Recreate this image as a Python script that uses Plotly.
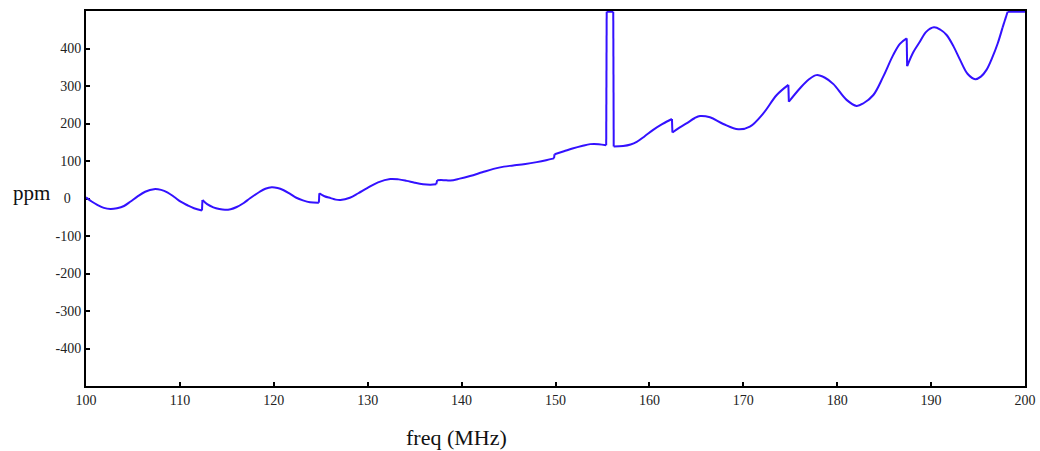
import plotly.graph_objects as go

freq_mhz = [
    100.0, 100.6, 101.2, 101.9, 102.6, 103.3, 104.05, 104.75, 105.46, 106.3, 107.24,
    108.0, 108.66, 109.4, 110.08, 110.8, 111.5, 112.35, 112.4, 112.9, 113.56, 114.2, 114.8,
    115.4, 116.05, 116.8, 117.47, 118.5, 119.1, 119.78, 120.4, 121.0, 121.7, 122.4, 123.1,
    123.85, 124.8,
    124.85, 125.4, 126.06, 126.6, 127.1, 128.1, 129.0, 129.9, 131.1, 132.4, 133.3, 134.15,
    135.0, 135.9, 136.7, 137.3, 137.4, 138.1, 138.8, 139.8, 140.9, 142.2, 143.4, 144.5,
    145.5, 146.8, 148.0, 149.0, 149.84, 149.9, 150.9, 151.9, 152.8, 153.7, 154.6, 155.4,
    155.45, 156.15, 156.2, 157.2, 158.0, 158.65, 159.5, 160.4, 161.4, 162.4, 162.45, 163.2,
    164.0, 164.8, 165.39, 166.45, 167.87, 169.47, 170.7, 172.13, 173.56, 174.8,
    174.85, 176.04, 177.0, 177.8, 178.7, 179.6, 181.0, 182.06, 182.8, 183.85,
    184.9, 185.97, 186.7, 187.4, 187.45, 188.1, 188.8, 189.5, 190.3, 191.0, 191.65, 192.4,
    193.1, 193.9, 194.7, 195.3, 195.9, 196.5, 197.1, 197.6, 198.15, 200.0,
]
ppm_values = [
    3, -8, -17, -25, -28, -26, -20, -8, 5, 18, 25,
    23, 16.5, 4, -8.5, -18, -26, -32, -4, -15, -23.5, -28, -30,
    -28.5, -22.7, -12, 0.5, 18, 26, 30, 28, 22.7, 13, 2, -5,
    -10, -11,
    14, 6, 1, -3, -4, 2, 14, 27, 43, 52, 51, 47,
    42, 38, 37, 38, 49, 49, 48, 53, 60, 70, 79, 85,
    88, 92, 97, 102, 107, 118, 126, 134, 140, 145, 145, 142,
    498, 498, 139, 140, 144, 151, 166, 183, 199, 212, 176, 189,
    201, 214, 220, 216.5, 198.7, 184.5, 191.5, 227, 276, 303,
    258, 294, 318, 329, 322, 305, 263, 247, 254, 276,
    325, 383, 413, 427, 353, 390, 418, 445, 456.5, 450, 436, 405,
    369, 332, 318, 325, 343, 375, 414, 455, 498, 498,
]

x_ticks = [100, 110, 120, 130, 140, 150, 160, 170, 180, 190, 200]
y_ticks = [-400, -300, -200, -100, 0, 100, 200, 300, 400]
y_tick_text = ["-400", "-300", "-200", "-100", "0\u2007\u2008", "100", "200", "300", "400"]

FONT = "Liberation Serif"
LINE = dict(color="#3311ff", width=2)
CEILING = 495

# split the series into smooth pieces at the steps (and at the clipped ceiling)
breaks = []
for i in range(1, len(freq_mhz)):
    if (freq_mhz[i] - freq_mhz[i - 1] < 0.1
            or ppm_values[i] >= CEILING or ppm_values[i - 1] >= CEILING):
        breaks.append(i)

fig = go.Figure()
starts = [0] + breaks
ends = breaks + [len(freq_mhz)]
for s, e in zip(starts, ends):
    fig.add_trace(go.Scatter(
        x=freq_mhz[s:e], y=ppm_values[s:e], mode="lines",
        line=dict(**LINE, shape="spline", smoothing=1.0),
        showlegend=False, hoverinfo="skip",
    ))
for i in breaks:
    fig.add_trace(go.Scatter(
        x=freq_mhz[i - 1:i + 1], y=ppm_values[i - 1:i + 1], mode="lines",
        line=LINE, showlegend=False, hoverinfo="skip",
    ))

axis_common = dict(
    ticks="inside", ticklen=4, tickwidth=1.5, tickcolor="black",
    showline=True, linecolor="black", linewidth=2, mirror=True,
    showgrid=False, zeroline=False, automargin=False, layer="below traces",
    tickfont=dict(family=FONT, size=14, color="#222222"),
)

fig.update_layout(
    width=1040, height=451,
    margin=dict(l=86, r=15, t=11, b=65, autoexpand=False),
    paper_bgcolor="white", plot_bgcolor="white",
    font=dict(family=FONT, color="#222222", size=14),
    xaxis=dict(range=[100, 200], tickmode="array", tickvals=x_ticks, **axis_common),
    yaxis=dict(range=[-500, 500], tickmode="array", tickvals=y_ticks,
               ticktext=y_tick_text, **axis_common),
    annotations=[
        dict(text="ppm", xref="paper", yref="y", x=(31 - 86) / 940, y=16,
             showarrow=False, xanchor="center", yanchor="middle",
             font=dict(family=FONT, size=21, color="#111111")),
        dict(text="freq (MHz)", xref="paper", yref="paper", x=(456.5 - 86) / 940,
             y=(386 - 437) / 375, showarrow=False, xanchor="center", yanchor="middle",
             font=dict(family=FONT, size=22, color="#111111")),
    ],
)

fig.write_html(
    "out.html",
    config={"displayModeBar": False},
    post_script="document.body.style.margin='0';document.body.style.overflow='hidden';",
)
